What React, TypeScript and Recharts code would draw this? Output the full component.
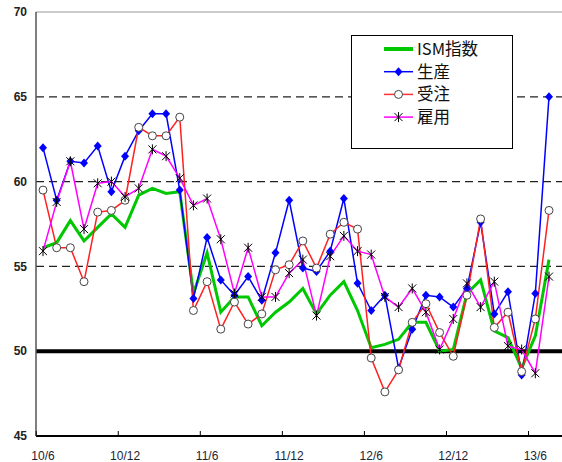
import { Line, LineChart, ReferenceLine, XAxis, YAxis } from "recharts";

// 2010/6 .. 2013/7, monthly
const months = [
  "10/6", "10/7", "10/8", "10/9", "10/10", "10/11", "10/12",
  "11/1", "11/2", "11/3", "11/4", "11/5", "11/6", "11/7", "11/8", "11/9", "11/10", "11/11", "11/12",
  "12/1", "12/2", "12/3", "12/4", "12/5", "12/6", "12/7", "12/8", "12/9", "12/10", "12/11", "12/12",
  "13/1", "13/2", "13/3", "13/4", "13/5", "13/6", "13/7"
];

const ism = [
  56.1, 56.4, 57.7, 56.5, 57.3, 58.1, 57.3,
  59.2, 59.6, 59.3, 59.4, 53.4, 55.8, 52.3, 53.2, 53.2, 51.5, 52.3, 52.9,
  53.7, 52.2, 53.3, 54.1, 52.4, 50.2, 50.4, 50.7, 51.7, 51.7, 50.0, 50.1,
  53.4, 54.2, 51.2, 50.8, 49.0, 50.9, 55.4
];

const production = [
  62.0, 58.9, 61.2, 61.1, 62.1, 59.4, 61.5,
  63.0, 64.0, 64.0, 59.5, 53.1, 56.7, 54.2, 53.3, 54.4, 53.0, 55.8, 58.9,
  54.9, 54.7, 55.9, 59.0, 54.0, 52.4, 53.3, 49.0, 51.3, 53.3, 53.2, 52.6,
  53.7, 57.6, 52.2, 53.5, 48.6, 53.4, 65.0
];

const orders = [
  59.5, 56.1, 56.1, 54.1, 58.2, 58.3, 58.9,
  63.2, 62.7, 62.7, 63.8, 52.4, 54.1, 51.3, 52.9, 51.6, 52.2, 54.8, 55.1,
  56.5, 54.9, 56.9, 57.6, 57.2, 49.6, 47.6, 48.9, 51.7, 52.8, 51.1, 49.7,
  53.3, 57.8, 51.4, 52.3, 48.8, 51.9, 58.3
];

const employment = [
  55.9, 58.8, 61.2, 57.2, 59.9, 60.0, 59.1,
  59.6, 61.9, 61.5, 60.2, 58.6, 59.0, 56.6, 53.4, 56.1, 53.2, 53.2, 54.6,
  55.4, 52.1, 55.6, 56.8, 55.9, 55.7, 53.2, 52.6, 53.7, 52.3, 50.1, 51.9,
  54.0, 52.6, 54.1, 50.3, 50.1, 48.7, 54.4
];

const yTicks = [45, 50, 55, 60, 65, 70];

const data = months.map((m, i) => ({
  m,
  ism: ism[i],
  production: production[i],
  orders: orders[i],
  employment: employment[i]
}));

const HALF_STEP = 6.8;
const LABEL_FONT = "'Liberation Sans', Arial, sans-serif";
const CJK_FONT = "'Noto Sans CJK JP', 'Liberation Sans', sans-serif";

function Diamond({ cx, cy }: { cx: number; cy: number }) {
  return (
    <polygon
      points={`${cx},${cy - 4.5} ${cx + 4},${cy} ${cx},${cy + 4.5} ${cx - 4},${cy}`}
      fill="#0000ff"
    />
  );
}

function Ring({ cx, cy }: { cx: number; cy: number }) {
  return <circle cx={cx} cy={cy} r={4} fill="#fff" stroke="#444" strokeWidth={1} />;
}

function Star({ cx, cy }: { cx: number; cy: number }) {
  return (
    <g stroke="#000" strokeWidth={1}>
      <line x1={cx} y1={cy - 5} x2={cx} y2={cy + 5} />
      <line x1={cx - 4} y1={cy - 4} x2={cx + 4} y2={cy + 4} />
      <line x1={cx - 4} y1={cy + 4} x2={cx + 4} y2={cy - 4} />
    </g>
  );
}

function MonthTick({ x, y, payload }: any) {
  return (
    <g>
      <line x1={x - HALF_STEP} x2={x - HALF_STEP} y1={y} y2={y - 5} stroke="#000" strokeWidth={1} />
      <text x={x} y={y + 24} textAnchor="middle" fontSize={12} fill="#1c2433" fontFamily={LABEL_FONT}>
        {payload.value}
      </text>
    </g>
  );
}

const legendItems = [
  { name: "ISM指数", color: "#00c800", width: 4, marker: null },
  { name: "生産", color: "#0000ff", width: 1.5, marker: "diamond" },
  { name: "受注", color: "#ff3333", width: 1.5, marker: "ring" },
  { name: "雇用", color: "#ff00ff", width: 1.5, marker: "star" }
];

function LegendBox() {
  return (
    <div
      style={{
        position: "absolute",
        left: 351,
        top: 35,
        width: 160,
        height: 112,
        border: "1.5px solid #000",
        background: "#fff",
        zIndex: 2
      }}
    >
      <svg width={160} height={112} style={{ position: "absolute", left: 0, top: 0 }}>
        {legendItems.map((it, i) => {
          const cy = 13 + i * 22.7;
          return (
            <g key={it.name}>
              <line x1={32} x2={61} y1={cy} y2={cy} stroke={it.color} strokeWidth={it.width} />
              {it.marker === "diamond" && <Diamond cx={46.5} cy={cy} />}
              {it.marker === "ring" && <Ring cx={46.5} cy={cy} />}
              {it.marker === "star" && <Star cx={46.5} cy={cy} />}
              <text x={65} y={cy + 6} fontSize={16.5} fill="#111" fontFamily={CJK_FONT}>
                {it.name}
              </text>
            </g>
          );
        })}
      </svg>
    </div>
  );
}

export default function App() {
  return (
    <div style={{ position: "absolute", left: 0, top: 0, width: 562, height: 462, background: "#fff" }}>
      <LineChart width={562} height={462} data={data} margin={{ top: 12, right: 0, bottom: 0, left: 0 }}>
        <XAxis
          dataKey="m"
          interval={5}
          height={26}
          padding={{ left: 7, right: 13 }}
          axisLine={{ stroke: "#000", strokeWidth: 2 }}
          tickLine={false}
          tickSize={0}
          tickMargin={0}
          tick={<MonthTick />}
        />
        <YAxis
          type="number"
          domain={[45, 70]}
          ticks={yTicks}
          width={36}
          axisLine={{ stroke: "#555", strokeWidth: 1.5 }}
          tickLine={false}
          tickSize={0}
          tickMargin={9}
          tick={{ fill: "#222", fontSize: 12, fontWeight: "bold", fontFamily: LABEL_FONT }}
        />
        <ReferenceLine y={70} stroke="#999" strokeWidth={1} />
        <ReferenceLine y={65} stroke="#222" strokeWidth={1.3} strokeDasharray="8 5" />
        <ReferenceLine y={60} stroke="#222" strokeWidth={1.3} strokeDasharray="8 5" />
        <ReferenceLine y={55} stroke="#222" strokeWidth={1.3} strokeDasharray="8 5" />
        <ReferenceLine y={50} stroke="#000" strokeWidth={4} />
        <Line
          dataKey="ism"
          name="ISM指数"
          stroke="#00c800"
          strokeWidth={3}
          dot={false}
          activeDot={false}
          isAnimationActive={false}
        />
        <Line
          dataKey="production"
          name="生産"
          stroke="#0000ff"
          strokeWidth={1.5}
          dot={(p: any) => <Diamond key={`d${p.index}`} cx={p.cx} cy={p.cy} />}
          activeDot={false}
          isAnimationActive={false}
        />
        <Line
          dataKey="orders"
          name="受注"
          stroke="#ff2020"
          strokeWidth={1.5}
          dot={(p: any) => <Ring key={`r${p.index}`} cx={p.cx} cy={p.cy} />}
          activeDot={false}
          isAnimationActive={false}
        />
        <Line
          dataKey="employment"
          name="雇用"
          stroke="#ff00ff"
          strokeWidth={1.5}
          dot={(p: any) => <Star key={`s${p.index}`} cx={p.cx} cy={p.cy} />}
          activeDot={false}
          isAnimationActive={false}
        />
      </LineChart>
      <LegendBox />
    </div>
  );
}
